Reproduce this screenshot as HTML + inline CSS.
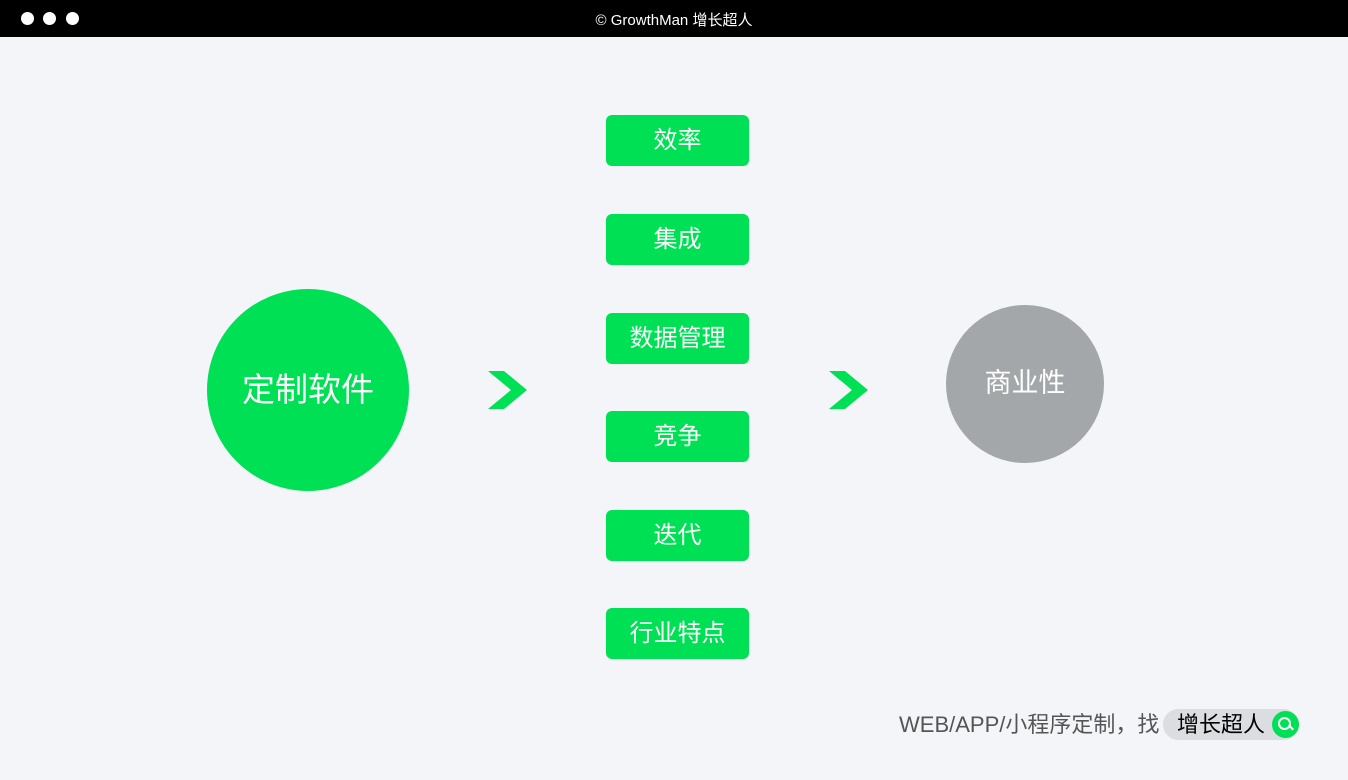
<!DOCTYPE html>
<html><head><meta charset="utf-8"><style>
body{margin:0;width:1348px;height:780px;background:#f4f5f9;position:relative;overflow:hidden;font-family:"Liberation Sans","Noto Sans CJK SC",sans-serif}
.top{position:absolute;left:0;top:0;width:1348px;height:37px;background:#000}
.dot{position:absolute;top:12px;width:13px;height:13px;border-radius:50%;background:#fff}
.title{position:absolute;left:0;width:1348px;top:9px;text-align:center;color:#fff;font-size:15px}
.box{position:absolute;left:606px;width:143px;height:51px;border-radius:6px;background:#00e055;color:#fff;font-size:24px;line-height:51px;text-align:center}
.circ{position:absolute;border-radius:50%;color:#fff;text-align:center}
</style></head><body>
<div class="top">
<div class="dot" style="left:21px"></div><div class="dot" style="left:43px"></div><div class="dot" style="left:66px"></div>
<div class="title">© GrowthMan 增长超人</div>
</div>
<div class="circ" style="left:207px;top:289px;width:202px;height:202px;background:#00e055;font-size:33px;line-height:202px">定制软件</div>
<div class="circ" style="left:946px;top:305px;width:158px;height:158px;background:#a3a7aa;font-size:27px;line-height:156px">商业性</div>
<div class="box" style="top:115px">效率</div>
<div class="box" style="top:214px">集成</div>
<div class="box" style="top:313px">数据管理</div>
<div class="box" style="top:411px">竞争</div>
<div class="box" style="top:510px">迭代</div>
<div class="box" style="top:608px">行业特点</div>
<svg style="position:absolute;left:0;top:0" width="1348" height="780">
<polygon points="488,371 504,371 527,390 504,409 488,409 511,390" fill="#00e055"/>
<polygon points="829,371 845,371 868,390 845,409 829,409 852,390" fill="#00e055"/>
</svg>
<div style="position:absolute;left:899px;top:710px;font-size:22px;color:#555;line-height:30px">WEB/APP/小程序定制，找</div>
<div style="position:absolute;left:1163px;top:709px;width:136px;height:31px;border-radius:16px;background:#dcdde0">
<div style="position:absolute;left:14px;top:0;font-size:22px;line-height:31px;color:#000">增长超人</div>
<div style="position:absolute;left:109px;top:2px;width:27px;height:27px;border-radius:50%;background:#00e055">
<div style="position:absolute;left:6px;top:6px;width:9px;height:9px;border:2px solid #fff;border-radius:50%"></div>
<div style="position:absolute;left:17px;top:16px;width:5px;height:2px;background:#fff;transform:rotate(45deg)"></div>
</div></div>
</body></html>
